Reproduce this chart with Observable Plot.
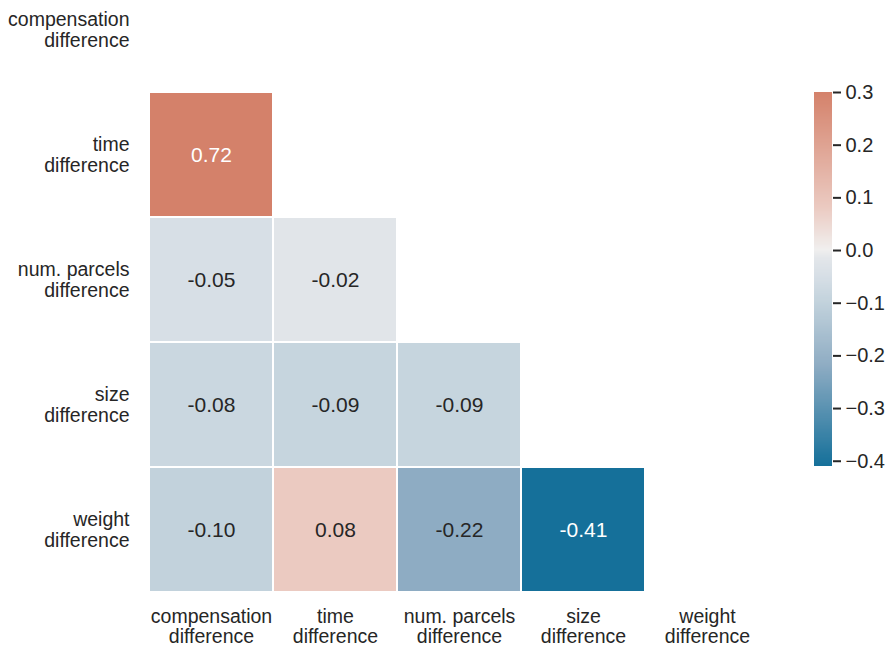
<!DOCTYPE html>
<html><head><meta charset="utf-8">
<script src="https://cdn.jsdelivr.net/npm/d3@7"></script>
<script src="https://cdn.jsdelivr.net/npm/@observablehq/plot@0.6"></script>
<style>
body{margin:0;background:#fff}
#chart{position:relative;width:888px;height:648px;overflow:hidden}
#chart svg{position:absolute;top:0}
</style>
</head><body><div id="chart"></div>
<script>
const labels = ["compensation difference", "time difference", "num. parcels difference", "size difference", "weight difference"];
const timeRow = [0.72];
const parcelsRow = [-0.05, -0.02];
const sizeRow = [-0.08, -0.09, -0.09];
const weightRow = [-0.10, 0.08, -0.22, -0.41];
const rows = [timeRow, parcelsRow, sizeRow, weightRow];
const cbarTicks = [-0.4, -0.3, -0.2, -0.1, 0.0, 0.1, 0.2, 0.3];
const vmin = -0.41, vmax = 0.3;
const colorStops = [-0.41, -0.22, -0.10, -0.05, -0.02, 0, 0.08, 0.3];
const colorRange = ["#15709a", "#8eacc3", "#c2d2dc", "#d7dfe6", "#e1e5e9", "#f0efee", "#ebcac1", "#d4816a"];

const cells = [];
rows.forEach((row, i) => row.forEach((v, j) => cells.push({x: labels[j], y: labels[i + 1], v})));

const colorOpts = {type: "linear", domain: colorStops, range: colorRange, clamp: true};
const font = "Arial, 'Liberation Sans', sans-serif";
const fmtLabel = d => d.replace(" difference", "\ndifference");

const main = Plot.plot({
  width: 888, height: 648,
  marginLeft: 147, marginRight: 117, marginTop: 0, marginBottom: 57,
  style: {fontFamily: font, fontSize: "19.5px", color: "#262626", background: "transparent"},
  x: {domain: labels, padding: 0, axis: null, label: null},
  y: {domain: labels, padding: 0, range: [-34, 592], axis: null, label: null},
  color: colorOpts,
  marks: [
    Plot.cell(cells, {x: "x", y: "y", fill: "v", inset: 1}),
    Plot.text(cells.filter(d => Math.abs(d.v) <= 0.3), {x: "x", y: "y", text: d => d.v.toFixed(2), fill: "#262626", fontSize: 21}),
    Plot.text(cells.filter(d => Math.abs(d.v) > 0.3), {x: "x", y: "y", text: d => d.v.toFixed(2), fill: "white", fontSize: 21}),
    Plot.axisX({anchor: "bottom", label: null, tickSize: 0, tickPadding: 17, tickFormat: fmtLabel, fontSize: 19.5, lineHeight: 1.04, fill: "#262626"}),
    Plot.axisY({anchor: "left", label: null, tickSize: 0, tickPadding: 18, tickFormat: fmtLabel, fontSize: 19.5, lineHeight: 1.04, fill: "#262626"})
  ]
});

const step = 0.002;
const grad = d3.range(vmin, vmax, step).map(v => ({v0: v, v1: Math.min(v + step * 1.6, vmax), v}));
const bar = Plot.plot({
  width: 74, height: 648,
  marginLeft: 0, marginRight: 56, marginTop: 0, marginBottom: 0,
  style: {fontFamily: font, fontSize: "20px", color: "#262626", background: "transparent", overflow: "visible"},
  x: {domain: [0, 1], axis: null, label: null},
  y: {domain: [vmin, vmax], range: [466, 92], axis: null, label: null},
  color: colorOpts,
  marks: [
    Plot.rect(grad, {x1: 0, x2: 1, y1: "v0", y2: "v1", fill: "v", shapeRendering: "crispEdges"}),
    Plot.axisY({anchor: "right", label: null, ticks: cbarTicks, tickSize: 8, tickPadding: 5, strokeWidth: 2,
      fontSize: 20, tickFormat: d => d.toFixed(1).replace("-", "\u2212"), fill: "#262626", stroke: "#262626"})
  ]
});

const chart = document.getElementById("chart");
main.style.left = "0px";
bar.style.left = "814px";
chart.appendChild(main);
chart.appendChild(bar);
</script>
</body></html>
